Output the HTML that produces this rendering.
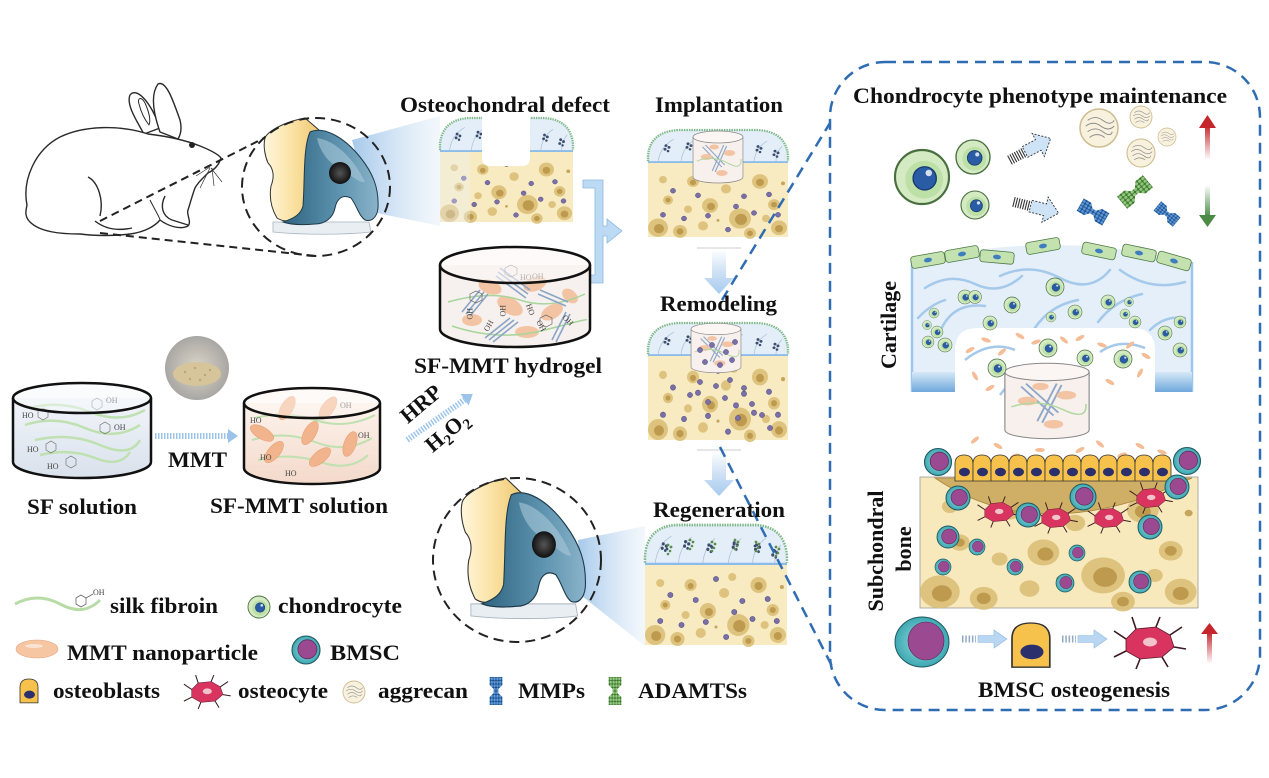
<!DOCTYPE html>
<html><head><meta charset="utf-8">
<style>
html,body{margin:0;padding:0;background:#fff;}
svg{display:block;}
.t{font-family:"Liberation Serif","DejaVu Serif",serif;font-weight:bold;fill:#111;}
.s{font-family:"Liberation Serif","DejaVu Serif",serif;font-size:8px;fill:#444;}
</style></head><body>
<svg width="1269" height="778" viewBox="0 0 1269 778" xmlns="http://www.w3.org/2000/svg">
<defs>
<linearGradient id="beam" x1="0" x2="1" y1="0" y2="0">
 <stop offset="0" stop-color="#8fbbe6" stop-opacity="0.8"/>
 <stop offset="1" stop-color="#dbe9f6" stop-opacity="0.35"/>
</linearGradient>
<linearGradient id="yel" x1="0" x2="1" y1="0" y2="0">
 <stop offset="0" stop-color="#fff6dc"/><stop offset="0.5" stop-color="#fbe3a6"/><stop offset="1" stop-color="#efc872"/>
</linearGradient>
<linearGradient id="blk" x1="0" x2="1" y1="0" y2="0">
 <stop offset="0" stop-color="#2f6480"/><stop offset="0.6" stop-color="#5f94b0"/><stop offset="1" stop-color="#8ab3c9"/>
</linearGradient>
<radialGradient id="hole"><stop offset="0" stop-color="#555"/><stop offset="1" stop-color="#111"/></radialGradient>
<linearGradient id="down" x1="0" y1="0" x2="0" y2="1">
 <stop offset="0" stop-color="#fff"/><stop offset="0.5" stop-color="#cfe2f5"/><stop offset="1" stop-color="#a6caee"/>
</linearGradient>
<linearGradient id="red" x1="0" y1="0" x2="0" y2="1">
 <stop offset="0" stop-color="#c4262c"/><stop offset="1" stop-color="#c4262c" stop-opacity="0"/>
</linearGradient>
<linearGradient id="grn" x1="0" y1="0" x2="0" y2="1">
 <stop offset="0" stop-color="#4b8b45" stop-opacity="0"/><stop offset="1" stop-color="#4b8b45"/>
</linearGradient>
<linearGradient id="bar" x1="0" y1="0" x2="0" y2="1">
 <stop offset="0" stop-color="#d6e8f8"/><stop offset="1" stop-color="#6fa8dc"/>
</linearGradient>
<linearGradient id="sfb" x1="0" y1="0" x2="0" y2="1">
 <stop offset="0" stop-color="#f2f5fa"/><stop offset="1" stop-color="#d9e1ec"/>
</linearGradient>
<linearGradient id="mmb" x1="0" y1="0" x2="0" y2="1">
 <stop offset="0" stop-color="#fdf3ec"/><stop offset="1" stop-color="#f3d9ca"/>
</linearGradient>
<radialGradient id="bm"><stop offset="0" stop-color="#9adfe0"/><stop offset="1" stop-color="#3ea8b2"/></radialGradient>
<radialGradient id="photo"><stop offset="0" stop-color="#dcd6c8"/><stop offset="1" stop-color="#a9a7a4"/></radialGradient>
<pattern id="bd" width="3.5" height="3.5" patternUnits="userSpaceOnUse"><rect width="3.5" height="3.5" fill="#1f4f8e"/><circle cx="1.75" cy="1.75" r="1.45" fill="#5b98d6"/></pattern>
<pattern id="gd" width="3.5" height="3.5" patternUnits="userSpaceOnUse"><rect width="3.5" height="3.5" fill="#3d7530"/><circle cx="1.75" cy="1.75" r="1.45" fill="#93c97f"/></pattern>

<g id="chondro">
 <circle r="10" fill="#d4eac3" stroke="#496f3e" stroke-width="0.8"/>
 <circle cx="0.8" cy="1" r="7" fill="#bde0a6"/>
 <circle cx="1" cy="0.5" r="4.3" fill="#2a5ca6" stroke="#173a70" stroke-width=".5"/>
 <circle cx="2.5" cy="-1.5" r="1.2" fill="#fff" opacity=".8"/>
</g>
<g id="bmsc">
 <circle r="10" fill="url(#bm)" stroke="#1f5962" stroke-width="0.8"/>
 <circle cx="1" cy="-0.5" r="6.8" fill="#9b4a92" stroke="#5a2456" stroke-width=".5"/>
</g>
<g id="oblast">
 <path d="M0,26 L0,9 Q0,0 9,0 Q18,0 18,9 L18,26 Z" fill="#f6c24c" stroke="#333" stroke-width=".8"/>
 <ellipse cx="9.5" cy="17" rx="5.5" ry="4.3" fill="#2b2f6c"/>
</g>
<g id="ocyte">
 <g stroke="#3a1a20" stroke-width="1.6" fill="none">
  <path d="M-22,-4 L-34,-12 M-12,-14 L-16,-26 M8,-16 L12,-26 M22,-8 L34,-16 M26,4 L38,6 M14,14 L20,24 M-8,16 L-12,26 M-22,8 L-34,14"/>
 </g>
 <path d="M-22,-4 L-12,-14 L8,-16 L22,-8 L26,4 L14,14 L-8,16 L-22,8 Z" fill="#d8345f" stroke="#5a1a2a" stroke-width="0.8"/>
 <ellipse cx="2" cy="-1" rx="7" ry="4.5" fill="#f3c3cc"/>
</g>
<g id="aggr">
 <circle r="10" fill="#f8f1de" stroke="#cdbd90" stroke-width=".8"/>
 <path d="M-6,-4 Q-2,-7 2,-4 T8,-4 M-7,-1 Q-3,-4 1,-1 T8,-1 M-6,2 Q-2,-1 2,2 T7,2 M-5,5 Q-1,2 3,5" stroke="#8a8a8a" stroke-width=".5" fill="none"/>
</g>
<path id="dumb" d="M-8,-14 L8,-14 L8,-6 L3,-2 L3,2 L8,6 L8,14 L-8,14 L-8,6 L-3,2 L-3,-2 L-8,-6 Z"/>
<g id="mmp"><use href="#dumb" fill="url(#bd)"/></g>
<g id="adam"><use href="#dumb" fill="url(#gd)"/></g>
<g id="cl"><circle r="1.5" fill="#3e4d6e"/><circle cx="3" cy="2" r="1.5" fill="#3e4d6e"/><circle cx="-1" cy="4" r="1.5" fill="#3e4d6e"/><circle cx="2" cy="6" r="1.3" fill="#3e4d6e"/></g>
<g id="clg"><circle r="1.4" fill="#5b8e4e"/><circle cx="3" cy="2" r="1.4" fill="#5b8e4e"/><circle cx="-1" cy="4" r="1.4" fill="#3e4d6e"/><circle cx="2" cy="6" r="1.3" fill="#5b8e4e"/><circle cx="0" cy="9" r="1.3" fill="#5b8e4e"/></g>

<g id="cartTop">
 <path d="M0,36 L0,28 Q2,2 30,0 L110,0 Q138,2 140,28 L140,36 Z" fill="#e3eef8"/>
 <path d="M0,34 L0,28 Q2,2 30,0 L110,0 Q138,2 140,28 L140,34" fill="none" stroke="#7fb98a" stroke-width="2.4" stroke-dasharray="1.5 1"/>
 <path d="M10,35 Q12,18 26,10 M33,35 Q34,20 46,11 M57,35 Q58,21 69,12 M82,35 Q84,20 95,12 M106,35 Q107,20 119,12 M128,35 Q128,24 134,18" stroke="#a9bfd4" stroke-width=".7" fill="none"/>
 <use href="#cl" x="18" y="17"/><use href="#cl" x="40" y="15"/><use href="#cl" x="63" y="18"/><use href="#cl" x="88" y="16"/><use href="#cl" x="110" y="18"/><use href="#cl" x="127" y="23"/>
 <rect x="0" y="34" width="140" height="3" fill="#8cbce8"/>
</g>

<g id="spots">
 <g fill="#dcbf78" opacity=".9">
  <circle cx="10" cy="70" r="10"/><circle cx="32" cy="74" r="7"/><circle cx="20" cy="40" r="5"/><circle cx="45" cy="20" r="6"/>
  <circle cx="62" cy="46" r="8"/><circle cx="78" cy="28" r="5"/><circle cx="92" cy="60" r="11"/><circle cx="112" cy="20" r="8"/>
  <circle cx="126" cy="45" r="6"/><circle cx="131" cy="70" r="8"/><circle cx="102" cy="76" r="6"/><circle cx="55" cy="68" r="5"/>
  <circle cx="40" cy="50" r="4"/><circle cx="86" cy="12" r="4"/><circle cx="118" cy="60" r="4"/><circle cx="15" cy="18" r="4"/>
 </g>
 <g fill="#b48d3e" opacity=".75">
  <circle cx="11" cy="71" r="5"/><circle cx="32" cy="74" r="3.5"/><circle cx="45" cy="21" r="3"/><circle cx="63" cy="47" r="4"/>
  <circle cx="93" cy="61" r="6"/><circle cx="112" cy="21" r="4"/><circle cx="126" cy="45" r="3"/><circle cx="131" cy="71" r="4"/>
  <circle cx="102" cy="76" r="3"/><circle cx="20" cy="40" r="2.5"/><circle cx="70" cy="62" r="1.5"/><circle cx="135" cy="22" r="2"/>
 </g>
</g>
<g id="purp" fill="#7b6fa8" stroke="#4d4a80" stroke-width=".5">
 <circle cx="25" cy="30" r="2.6"/><circle cx="50" cy="35" r="2.6"/><circle cx="70" cy="14" r="2.6"/><circle cx="96" cy="36" r="2.6"/>
 <circle cx="106" cy="54" r="2.6"/><circle cx="121" cy="34" r="2.6"/><circle cx="36" cy="60" r="2.6"/><circle cx="80" cy="72" r="2.6"/>
 <circle cx="60" cy="57" r="2.6"/><circle cx="130" cy="56" r="2.6"/><circle cx="15" cy="56" r="2.6"/><circle cx="88" cy="47" r="2.6"/>
</g>
<g id="boneTex">
 <rect width="140" height="80" fill="#f8ebc1"/>
 <use href="#spots"/><use href="#purp"/>
</g>

<g id="knee">
 <path d="M10,104 L106,104 L108,114 C80,117 40,117 10,114 Z" fill="#e9eef3" stroke="#aab4be" stroke-width=".8"/>
 <path d="M2,20 C4,14 20,4 42,0 L56,12 C48,40 44,70 40,100 C30,104 20,104 14,100 C8,90 6,80 8,68 C12,58 10,50 5,45 C2,38 0,28 2,20 Z" fill="url(#yel)" stroke="#333" stroke-width="1"/>
 <path d="M20,104 C32,100 38,96 40,88 C42,60 40,30 47,14 C60,8 80,18 97,39 C110,55 116,70 115,90 C114,100 108,104 102,102 C96,98 94,88 88,80 C80,76 74,80 72,90 C70,100 62,106 52,106 C40,107 28,107 20,104 Z" fill="url(#blk)" stroke="#1d3a4a" stroke-width="1"/>
 <path d="M54,20 C72,22 92,42 102,64 C96,66 82,52 70,46 C62,40 56,30 54,20 Z" fill="#a9c8d8" opacity=".6"/>
 <circle cx="77" cy="55" r="11" fill="url(#hole)"/>
</g>

<g id="hatch">
 <rect x="0" y="-5" width="15" height="10" fill="none"/>
 <path d="M0,-5 V5 M2.5,-5 V5 M5,-5 V5 M7.5,-5 V5 M10,-5 V5 M12.5,-5 V5 M15,-5 V5" stroke="#333" stroke-width="1.1"/>
 <path d="M17,-6 L32,-6 L32,-13 L46,0 L32,13 L32,6 L17,6 Z" fill="#cfe3f7" stroke="#333" stroke-width=".9" stroke-dasharray="2 1.5"/>
</g>
<g id="sarrow">
 <line x1="0" y1="0" x2="14" y2="0" stroke="#8fa9c4" stroke-width="7" stroke-dasharray="1.5 1.8"/>
 <path d="M16,-3.5 L32,-3.5 L32,-9 L45,0 L32,9 L32,3.5 L16,3.5 Z" fill="#b9d6f2" stroke="#8fb9e2" stroke-width=".6"/>
</g>
<g id="minicyl">
 <path d="M-26,0 L-26,40 A26,6 0 0 0 26,40 L26,0 Z" fill="#f8f0ec" stroke="#888" stroke-width=".7"/>
 <ellipse cx="0" cy="0" rx="26" ry="6" fill="#fbf6f3" stroke="#888" stroke-width=".7"/>
 <g stroke="#8fa8c8" stroke-width="1.2"><path d="M-16,10 L4,30 M-13,8 L7,28 M6,8 L-6,34 M9,9 L-3,35"/></g>
 <g fill="#f3c4a4"><ellipse cx="-12" cy="20" rx="6" ry="3"/><ellipse cx="12" cy="16" rx="6" ry="3"/><ellipse cx="4" cy="36" rx="6" ry="3"/><ellipse cx="-4" cy="10" rx="5" ry="2.5"/></g>
 <path d="M-22,24 Q-5,18 10,26 T24,22" stroke="#b0d8a0" stroke-width="1" fill="none"/>
</g>
</defs>

<rect width="1269" height="778" fill="#fff"/>

<!-- Rabbit -->
<g fill="#fff" stroke="#2a2a2a" stroke-width="1.4" stroke-linejoin="round">
 <path d="M144,134 C136,120 126,104 130,95 C136,87 150,100 160,128 Z"/>
 <path d="M160,132 C154,115 150,95 158,84 C166,80 173,100 180,120 C182,128 181,134 178,139 Z"/>
 <path d="M27,205 C22,180 35,150 60,137 C85,125 120,125 148,134 C165,136 185,140 200,146 C210,150 218,154 221,158 C219,165 214,170 208,173 C203,178 198,182 195,188 C192,196 190,204 188,210 C186,214 192,222 188,226 C180,230 168,226 160,220 C155,226 145,232 130,234 C115,236 95,236 80,234 C60,234 40,232 30,222 C24,216 26,210 27,205 Z"/>
 <path d="M139,104 C137,98 141,96 145,103 C149,112 151,120 149,125 C145,120 141,112 139,104 Z" fill="none" stroke-width="1"/>
 <path d="M88,177 C98,182 104,200 100,216" fill="none"/>
 <path d="M165,196 C160,206 162,216 172,220 L188,225" fill="none"/>
 <path d="M95,221 C105,229 118,231 132,228" fill="none"/>
 <path d="M150,200 C155,210 160,218 160,220" fill="none" stroke-width="1"/>
</g>
<circle cx="192" cy="145" r="3" fill="#222"/>
<g stroke="#333" stroke-width=".7" fill="none"><path d="M210,168 L200,188 M212,168 L214,186 M211,168 L222,182 M210,167 L196,176"/></g>

<!-- dashed black lines -->
<g stroke="#222" stroke-width="2" stroke-dasharray="8 5" fill="none">
 <path d="M100,221 L274,133"/>
 <path d="M100,233 L316,256"/>
</g>

<!-- beam 1 -->
<path d="M352,140 L440,116 L440,226 L372,212 Z" fill="url(#beam)"/>
<!-- knee 1 -->
<use href="#knee" transform="translate(263,118)"/>
<ellipse cx="316" cy="187" rx="74" ry="69" fill="none" stroke="#222" stroke-width="2" stroke-dasharray="10 6"/>

<!-- Defect block -->
<use href="#cartTop" transform="translate(440,118) scale(0.95 0.944)"/>
<g transform="translate(440,152) scale(0.95 0.875)"><use href="#boneTex"/></g>
<path d="M482,108 L482,158 Q482,166 490,166 L522,166 Q530,166 530,158 L530,108 Z" fill="#fff"/>
<path d="M440,152 L440,222 L470,222 L470,152 Z" fill="#eaf2fa" opacity=".35"/>

<!-- Bracket arrow -->
<path d="M583,180 L603,180 L603,226 L607,226 L607,219 L622,231 L607,243 L607,236 L603,236 L603,283 L583,283 L583,275 L595,275 L595,188 L583,188 Z" fill="#bcdaf4" stroke="#8db9e2" stroke-width=".8"/>

<!-- Hydrogel big cylinder -->
<g>
 <path d="M440,265 L440,329 A75,18 0 0 0 590,329 L590,265 Z" fill="#f6f0ee"/>
 <g fill="#f3c4a4">
  <ellipse cx="490" cy="287" rx="12" ry="7" transform="rotate(20 490 287)"/>
  <ellipse cx="535" cy="284" rx="12" ry="7" transform="rotate(-20 535 284)"/>
  <ellipse cx="510" cy="306" rx="14" ry="8" transform="rotate(30 510 306)"/>
  <ellipse cx="552" cy="312" rx="12" ry="7" transform="rotate(-30 552 312)"/>
  <ellipse cx="472" cy="320" rx="10" ry="6"/>
  <ellipse cx="527" cy="332" rx="12" ry="6"/>
  <ellipse cx="570" cy="296" rx="9" ry="6" transform="rotate(40 570 296)"/>
 </g>
 <path d="M448,302 Q490,290 520,300 T585,294 M452,326 Q500,342 545,330 T586,320" stroke="#a8d59a" stroke-width="1.5" fill="none"/>
 <g stroke="#8aa6c6" stroke-width="1.6">
  <path d="M500,268 L530,290 M498,272 L528,294 M496,276 L526,298"/>
  <path d="M462,312 L480,290 M466,314 L484,292 M470,316 L488,294"/>
  <path d="M540,290 L568,302 M538,294 L566,306"/>
  <path d="M485,338 L510,318 M489,340 L514,320 M493,342 L518,322"/>
  <path d="M552,340 L566,312 M556,342 L570,314"/>
 </g>
 <g stroke="#555" stroke-width=".6" fill="none"><path d="M505,268 l6,-3 6,3 0,6 -6,3 -6,-3z M470,294 l6,-3 6,3 0,6 -6,3 -6,-3z M540,318 l6,-3 6,3 0,6 -6,3 -6,-3z"/></g>
 <text class="s" x="532" y="279">OH</text>
 <text class="s" transform="rotate(90 467 308)" x="467" y="308">HO</text>
 <text class="s" transform="rotate(90 500 305)" x="500" y="305">HO</text>
 <text class="s" transform="rotate(70 526 305)" x="526" y="305">HO</text>
 <text class="s" transform="rotate(-60 488 332)" x="488" y="332">OH</text>
 <text class="s" transform="rotate(60 536 322)" x="536" y="322">OH</text>
 <text class="s" transform="rotate(45 562 318)" x="562" y="318">OH</text>
 <text class="s" x="520" y="280">HO</text>
 <path d="M440,265 L440,329 A75,18 0 0 0 590,329 L590,265" fill="none" stroke="#111" stroke-width="2.5"/>
 <ellipse cx="515" cy="265" rx="75" ry="18" fill="#fbf7f5" fill-opacity=".6" stroke="#111" stroke-width="2.5"/>
</g>

<!-- Implantation block -->
<use href="#cartTop" transform="translate(648,130) scale(1 0.917)"/>
<g transform="translate(648,163) scale(1 0.925)"><use href="#boneTex"/></g>
<use href="#minicyl" transform="translate(718,137) scale(0.96 1)"/>

<!-- Down arrows -->
<line x1="697" y1="248" x2="741" y2="248" stroke="#ccc" stroke-width="1"/>
<path d="M712,249 L726,249 L726,278 L734,278 L719,294 L704,278 L712,278 Z" fill="url(#down)"/>
<line x1="697" y1="450" x2="741" y2="450" stroke="#ccc" stroke-width="1"/>
<path d="M712,451 L726,451 L726,480 L734,480 L719,496 L704,480 L712,480 Z" fill="url(#down)"/>

<!-- Remodeling block -->
<use href="#cartTop" transform="translate(648,323) scale(1 0.917)"/>
<g transform="translate(648,356) scale(1 1.05)"><use href="#boneTex"/></g>
<use href="#minicyl" transform="translate(716,329) scale(0.96 0.95)"/>
<g fill="#7b6fa8" stroke="#4d4a80" stroke-width=".5">
 <circle cx="700" cy="350" r="2.6"/><circle cx="712" cy="345" r="2.6"/><circle cx="726" cy="352" r="2.6"/><circle cx="735" cy="342" r="2.6"/>
 <circle cx="705" cy="362" r="2.6"/><circle cx="720" cy="365" r="2.6"/><circle cx="732" cy="360" r="2.6"/>
 <circle cx="700" cy="382" r="2.6"/><circle cx="716" cy="386" r="2.6"/><circle cx="730" cy="380" r="2.6"/><circle cx="744" cy="388" r="2.6"/>
 <circle cx="690" cy="395" r="2.6"/><circle cx="708" cy="402" r="2.6"/><circle cx="725" cy="398" r="2.6"/><circle cx="752" cy="404" r="2.6"/>
 <circle cx="762" cy="415" r="2.6"/><circle cx="738" cy="418" r="2.6"/><circle cx="770" cy="428" r="2.6"/>
</g>

<!-- beam 2 + knee 2 -->
<path d="M578,540 L645,526 L645,646 L582,596 Z" fill="url(#beam)"/>
<use href="#knee" transform="translate(460,478) scale(1.09 1.21)"/>
<ellipse cx="517" cy="560" rx="84" ry="82" fill="none" stroke="#222" stroke-width="2" stroke-dasharray="10 6"/>

<!-- Regeneration block -->
<use href="#cartTop" transform="translate(645,525) scale(1.014 1.11)"/>
<g transform="translate(645,565) scale(1.014 1)"><use href="#boneTex"/></g>
<use href="#clg" x="668" y="545"/><use href="#clg" x="690" y="540"/><use href="#clg" x="712" y="542"/><use href="#clg" x="735" y="540"/><use href="#clg" x="756" y="542"/><use href="#clg" x="776" y="547"/>

<!-- SF solution beaker -->
<path d="M13,398 L13,462 A69,16 0 0 0 151,462 L151,398 Z" fill="url(#sfb)"/>
<g stroke="#bfe0b0" stroke-width="2.5" fill="none">
 <path d="M30,408 Q60,400 90,412 T145,410"/>
 <path d="M25,425 Q55,415 85,428 T140,425"/>
 <path d="M35,440 Q70,432 100,445 T140,440"/>
 <path d="M40,455 Q70,448 95,458 T130,452"/>
</g>
<g stroke="#666" stroke-width=".6" fill="none">
 <path d="M92,401 l5,-3 5,3 0,6 -5,3 -5,-3z M38,411 l5,-3 5,3 0,6 -5,3 -5,-3z M100,425 l5,-3 5,3 0,6 -5,3 -5,-3z M46,444 l5,-3 5,3 0,6 -5,3 -5,-3z M66,459 l5,-3 5,3 0,6 -5,3 -5,-3z"/>
</g>
<text class="s" x="106" y="403">OH</text><text class="s" x="22" y="418">HO</text><text class="s" x="114" y="430">OH</text>
<text class="s" x="27" y="452">HO</text><text class="s" x="47" y="469">HO</text>
<path d="M13,398 L13,462 A69,16 0 0 0 151,462 L151,398" fill="none" stroke="#111" stroke-width="2.5"/>
<ellipse cx="82" cy="398" rx="69" ry="15" fill="#f6f8fc" fill-opacity=".5" stroke="#111" stroke-width="2.5"/>

<!-- MMT photo + arrow -->
<circle cx="197" cy="368" r="32" fill="url(#photo)"/>
<ellipse cx="197" cy="374" rx="24" ry="12" fill="#d6c49a"/>
<g fill="#b8a57a"><circle cx="185" cy="372" r="1.2"/><circle cx="195" cy="368" r="1.2"/><circle cx="205" cy="375" r="1.2"/><circle cx="210" cy="370" r="1.2"/><circle cx="190" cy="379" r="1.2"/><circle cx="200" cy="380" r="1.2"/></g>
<line x1="155" y1="436" x2="228" y2="436" stroke="#9cc4ea" stroke-width="6" stroke-dasharray="1.5 1.5"/>
<path d="M228,429 L238,436 L228,443 Z" fill="#9cc4ea"/>

<!-- SF-MMT solution beaker -->
<path d="M244,403 L244,468 A68,16 0 0 0 380,468 L380,403 Z" fill="url(#mmb)"/>
<g stroke="#bfe0b0" stroke-width="2" fill="none">
 <path d="M255,418 Q285,410 315,420 T375,415"/><path d="M252,440 Q285,430 315,442 T372,438"/><path d="M258,460 Q290,452 320,462 T368,455"/>
</g>
<g fill="#f2b48c" stroke="#e39a70" stroke-width=".5">
 <ellipse cx="287" cy="408" rx="13" ry="6" transform="rotate(-60 287 408)"/>
 <ellipse cx="328" cy="408" rx="13" ry="6" transform="rotate(-55 328 408)"/>
 <ellipse cx="262" cy="433" rx="13" ry="6" transform="rotate(30 262 433)"/>
 <ellipse cx="310" cy="433" rx="13" ry="6" transform="rotate(-60 310 433)"/>
 <ellipse cx="350" cy="444" rx="13" ry="6" transform="rotate(-70 350 444)"/>
 <ellipse cx="274" cy="452" rx="13" ry="6" transform="rotate(-50 274 452)"/>
 <ellipse cx="320" cy="457" rx="13" ry="6" transform="rotate(-40 320 457)"/>
</g>
<text class="s" x="250" y="423">HO</text><text class="s" x="340" y="408">OH</text><text class="s" x="358" y="438">OH</text>
<text class="s" x="260" y="460">HO</text><text class="s" x="285" y="476">HO</text>
<path d="M244,403 L244,468 A68,16 0 0 0 380,468 L380,403" fill="none" stroke="#111" stroke-width="2.5"/>
<ellipse cx="312" cy="403" rx="68" ry="15" fill="#fdf6f1" fill-opacity=".5" stroke="#111" stroke-width="2.5"/>

<!-- HRP arrow -->
<g transform="rotate(-35 440 417)">
 <line x1="400" y1="417" x2="470" y2="417" stroke="#9cc4ea" stroke-width="6" stroke-dasharray="1.5 1.5"/>
 <path d="M470,410 L480,417 L470,424 Z" fill="#9cc4ea"/>
</g>
<text class="t" font-size="22" text-anchor="middle" transform="rotate(-40 421 404)" x="421" y="411">HRP</text>
<text class="t" font-size="22" text-anchor="middle" transform="rotate(-40 447 432)" x="447" y="439">H<tspan font-size="15" dy="5">2</tspan><tspan dy="-5">O</tspan><tspan font-size="15" dy="5">2</tspan></text>

<!-- blue dashed connectors -->
<g stroke="#2f6db3" stroke-width="2.5" stroke-dasharray="11 7" fill="none">
 <path d="M722,300 L830,123"/>
 <path d="M720,447 L834,670"/>
 <rect x="830" y="62" width="430" height="648" rx="55"/>
</g>

<!-- Panel: top cells -->
<use href="#chondro" transform="translate(922,177) scale(2.7)"/>
<use href="#chondro" transform="translate(973,157) scale(1.7)"/>
<use href="#chondro" transform="translate(975,205) scale(1.4)"/>
<use href="#hatch" transform="translate(1010,160) rotate(-28)"/>
<use href="#hatch" transform="translate(1014,202) rotate(14)"/>
<use href="#aggr" transform="translate(1099,128) scale(1.9)"/>
<use href="#aggr" transform="translate(1141,117) scale(1.1)"/>
<use href="#aggr" transform="translate(1167,137) scale(0.9)"/>
<use href="#aggr" transform="translate(1141,153) scale(1.4)"/>
<use href="#mmp" transform="translate(1093,212) rotate(-60) scale(0.9 1.05)"/>
<use href="#adam" transform="translate(1135,192) rotate(50) scale(1 1.2)"/>
<use href="#mmp" transform="translate(1167,214) rotate(-50) scale(0.75 0.9)"/>
<rect x="1205" y="125" width="5" height="35" fill="url(#red)"/>
<path d="M1199,128 L1207.5,115 L1216,128 Z" fill="#c4262c"/>
<rect x="1205" y="185" width="5" height="32" fill="url(#grn)"/>
<path d="M1199,215 L1207.5,227 L1216,215 Z" fill="#4b8b45"/>

<!-- Cartilage -->
<path d="M912,262 Q1052,228 1192,262 L1192,392 L912,392 Z" fill="#e4eff9"/>
<path d="M912,262 L912,392 M1192,262 L1192,392" stroke="#9cc6ec" stroke-width="2.5"/>
<g stroke="#a5c9ea" stroke-width="2.5" fill="none" stroke-linecap="round">
 <path d="M925,288 Q950,272 975,284 T1022,276"/>
 <path d="M1000,276 Q1030,262 1060,278 T1110,270"/>
 <path d="M1120,270 Q1150,292 1185,282"/>
 <path d="M940,332 Q952,302 985,306"/>
 <path d="M1030,336 Q1046,306 1078,300"/>
 <path d="M1098,322 Q1115,300 1142,294"/>
 <path d="M1150,330 Q1165,315 1185,318"/>
 <path d="M918,318 Q930,305 945,300"/>
</g>
<path d="M955,392 L955,350 Q955,328 978,328 L1132,328 Q1155,328 1155,350 L1155,392 Z" fill="#fff"/>
<rect x="912" y="372" width="43" height="20" fill="url(#bar)"/>
<rect x="1155" y="372" width="37" height="20" fill="url(#bar)"/>
<g stroke="#a5c9ea" stroke-width="2.5" fill="none"><path d="M965,360 Q990,340 1015,350 M1100,352 Q1120,338 1145,348 M1000,395 Q1010,380 1030,378"/></g>
<g>
 <g transform="translate(928,260) rotate(-10)"><rect x="-17" y="-6" width="34" height="12" rx="3" fill="#c4e2b0" stroke="#4c7a44" stroke-width=".8"/><ellipse rx="4" ry="2.3" fill="#3f7cc0"/></g>
 <g transform="translate(962,254) rotate(-10)"><rect x="-17" y="-6" width="34" height="12" rx="3" fill="#c4e2b0" stroke="#4c7a44" stroke-width=".8"/><ellipse rx="4" ry="2.3" fill="#3f7cc0"/></g>
 <g transform="translate(997,257) rotate(5)"><rect x="-17" y="-6" width="34" height="12" rx="3" fill="#c4e2b0" stroke="#4c7a44" stroke-width=".8"/><ellipse rx="4" ry="2.3" fill="#3f7cc0"/></g>
 <g transform="translate(1043,246) rotate(-10)"><rect x="-17" y="-6" width="34" height="12" rx="3" fill="#c4e2b0" stroke="#4c7a44" stroke-width=".8"/><ellipse rx="4" ry="2.3" fill="#3f7cc0"/></g>
 <g transform="translate(1099,251) rotate(12)"><rect x="-17" y="-6" width="34" height="12" rx="3" fill="#c4e2b0" stroke="#4c7a44" stroke-width=".8"/><ellipse rx="4" ry="2.3" fill="#3f7cc0"/></g>
 <g transform="translate(1139,253) rotate(12)"><rect x="-17" y="-6" width="34" height="12" rx="3" fill="#c4e2b0" stroke="#4c7a44" stroke-width=".8"/><ellipse rx="4" ry="2.3" fill="#3f7cc0"/></g>
 <g transform="translate(1174,261) rotate(16)"><rect x="-17" y="-6" width="34" height="12" rx="3" fill="#c4e2b0" stroke="#4c7a44" stroke-width=".8"/><ellipse rx="4" ry="2.3" fill="#3f7cc0"/></g>
</g>
<g>
 <use href="#chondro" transform="translate(965,297) scale(.7)"/><use href="#chondro" transform="translate(975,297) scale(.65)"/>
 <use href="#chondro" transform="translate(1012,305) scale(.8)"/><use href="#chondro" transform="translate(1055,287) scale(.9)"/>
 <use href="#chondro" transform="translate(1075,312) scale(.7)"/><use href="#chondro" transform="translate(1051,317) scale(.5)"/>
 <use href="#chondro" transform="translate(1108,302) scale(.7)"/><use href="#chondro" transform="translate(1129,302) scale(.45)"/>
 <use href="#chondro" transform="translate(1125,314) scale(.5)"/><use href="#chondro" transform="translate(1135,322) scale(.6)"/>
 <use href="#chondro" transform="translate(990,323) scale(.7)"/><use href="#chondro" transform="translate(934,313) scale(.5)"/>
 <use href="#chondro" transform="translate(927,325) scale(.45)"/><use href="#chondro" transform="translate(937,332) scale(.6)"/>
 <use href="#chondro" transform="translate(928,342) scale(.6)"/><use href="#chondro" transform="translate(945,345) scale(.7)"/>
 <use href="#chondro" transform="translate(1165,333) scale(.7)"/><use href="#chondro" transform="translate(1180,322) scale(.6)"/>
 <use href="#chondro" transform="translate(1180,350) scale(.7)"/>
</g>
<g fill="#f4bd97">
 <ellipse cx="970" cy="350" rx="5" ry="2" transform="rotate(-30 970 350)"/><ellipse cx="986" cy="340" rx="5" ry="2" transform="rotate(20 986 340)"/>
 <ellipse cx="1002" cy="352" rx="5" ry="2" transform="rotate(-40 1002 352)"/><ellipse cx="1020" cy="336" rx="5" ry="2" transform="rotate(30 1020 336)"/>
 <ellipse cx="1036" cy="342" rx="5" ry="2" transform="rotate(-20 1036 342)"/><ellipse cx="1064" cy="340" rx="5" ry="2" transform="rotate(40 1064 340)"/>
 <ellipse cx="1080" cy="338" rx="5" ry="2" transform="rotate(-30 1080 338)"/><ellipse cx="1102" cy="345" rx="5" ry="2" transform="rotate(20 1102 345)"/>
 <ellipse cx="1130" cy="345" rx="5" ry="2" transform="rotate(-40 1130 345)"/><ellipse cx="1146" cy="356" rx="5" ry="2" transform="rotate(30 1146 356)"/>
 <ellipse cx="975" cy="376" rx="5" ry="2" transform="rotate(60 975 376)"/><ellipse cx="990" cy="388" rx="5" ry="2" transform="rotate(-30 990 388)"/>
 <ellipse cx="1110" cy="382" rx="5" ry="2" transform="rotate(30 1110 382)"/><ellipse cx="1140" cy="373" rx="5" ry="2" transform="rotate(-60 1140 373)"/>
 <ellipse cx="975" cy="440" rx="5" ry="2" transform="rotate(-40 975 440)"/><ellipse cx="998" cy="446" rx="5" ry="2" transform="rotate(30 998 446)"/>
 <ellipse cx="1015" cy="456" rx="5" ry="2" transform="rotate(-20 1015 456)"/><ellipse cx="1040" cy="450" rx="5" ry="2"/>
 <ellipse cx="1058" cy="460" rx="5" ry="2" transform="rotate(20 1058 460)"/><ellipse cx="1080" cy="450" rx="5" ry="2" transform="rotate(-30 1080 450)"/>
 <ellipse cx="1100" cy="444" rx="5" ry="2" transform="rotate(40 1100 444)"/><ellipse cx="1122" cy="455" rx="5" ry="2" transform="rotate(-20 1122 455)"/>
 <ellipse cx="1140" cy="446" rx="5" ry="2" transform="rotate(30 1140 446)"/><ellipse cx="1162" cy="452" rx="5" ry="2" transform="rotate(20 1162 452)"/>
</g>
<use href="#minicyl" transform="translate(1047,372) scale(1.62 1.45)"/>
<use href="#chondro" transform="translate(1048,348) scale(.9)"/>
<use href="#chondro" transform="translate(1085,358) scale(.8)"/>
<use href="#chondro" transform="translate(1123,359) scale(.9)"/>
<use href="#chondro" transform="translate(997,368) scale(.9)"/>

<!-- Subchondral bone -->
<rect x="920" y="477" width="278" height="131" fill="#f8e9bd" stroke="#999" stroke-width=".8"/>
<g transform="translate(920,477) scale(1.99 1.64)"><use href="#spots"/></g>
<path d="M935,478 Q1040,550 1192,478 Z" fill="#cfae66" stroke="#a8873f" stroke-width=".8"/>
<g>
 <use href="#oblast" x="955" y="455"/><use href="#oblast" x="973" y="455"/><use href="#oblast" x="991" y="455"/><use href="#oblast" x="1009" y="455"/>
 <use href="#oblast" x="1027" y="455"/><use href="#oblast" x="1045" y="455"/><use href="#oblast" x="1063" y="455"/><use href="#oblast" x="1081" y="455"/>
 <use href="#oblast" x="1099" y="455"/><use href="#oblast" x="1117" y="455"/><use href="#oblast" x="1135" y="455"/><use href="#oblast" x="1153" y="455"/>
</g>
<use href="#bmsc" transform="translate(938,462) scale(1.35)"/>
<use href="#bmsc" transform="translate(1187,461) scale(1.35)"/>
<use href="#ocyte" transform="translate(998,512) scale(.6)"/>
<use href="#ocyte" transform="translate(1055,518) scale(.6)"/>
<use href="#ocyte" transform="translate(1108,518) scale(.6)"/>
<use href="#ocyte" transform="translate(1150,498) scale(.6)"/>
<g>
 <use href="#bmsc" transform="translate(958,498) scale(1.2)"/><use href="#bmsc" transform="translate(1083,497) scale(1.3)"/>
 <use href="#bmsc" transform="translate(1177,487) scale(1.2)"/><use href="#bmsc" transform="translate(1028,515) scale(1.2)"/>
 <use href="#bmsc" transform="translate(1150,527) scale(1.2)"/><use href="#bmsc" transform="translate(948,537) scale(1.1)"/>
 <use href="#bmsc" transform="translate(977,547) scale(.8)"/><use href="#bmsc" transform="translate(943,567) scale(.8)"/>
 <use href="#bmsc" transform="translate(1015,567) scale(.8)"/><use href="#bmsc" transform="translate(1077,553) scale(.8)"/>
 <use href="#bmsc" transform="translate(1065,583) scale(.9)"/><use href="#bmsc" transform="translate(1140,582) scale(1.1)"/>
</g>

<!-- bottom row -->
<g transform="translate(922,642)">
 <ellipse rx="27" ry="25" fill="url(#bm)" stroke="#1f5962" stroke-width="1"/>
 <ellipse cx="4" cy="-1" rx="18" ry="19" fill="#9b4a92" stroke="#5a2456" stroke-width=".6"/>
</g>
<use href="#sarrow" transform="translate(962,639)"/>
<g transform="translate(1012,623) scale(2.1 1.7)"><use href="#oblast"/></g>
<use href="#sarrow" transform="translate(1062,639)"/>
<use href="#ocyte" transform="translate(1148,643) scale(1.0 1.0)"/>
<rect x="1207" y="632" width="5" height="32" fill="url(#red)"/>
<path d="M1201,634 L1209.5,623 L1218,634 Z" fill="#c4262c"/>

<!-- Labels -->
<text class="t" font-size="22" x="400" y="112" textLength="210" lengthAdjust="spacingAndGlyphs">Osteochondral defect</text>
<text class="t" font-size="22" x="655" y="112" textLength="128" lengthAdjust="spacingAndGlyphs">Implantation</text>
<text class="t" font-size="22" x="660" y="311" textLength="117" lengthAdjust="spacingAndGlyphs">Remodeling</text>
<text class="t" font-size="22" x="653" y="517" textLength="132" lengthAdjust="spacingAndGlyphs">Regeneration</text>
<text class="t" font-size="22" x="414" y="373" textLength="188" lengthAdjust="spacingAndGlyphs">SF-MMT hydrogel</text>
<text class="t" font-size="22" x="27" y="514" textLength="110" lengthAdjust="spacingAndGlyphs">SF solution</text>
<text class="t" font-size="22" x="210" y="513" textLength="178" lengthAdjust="spacingAndGlyphs">SF-MMT solution</text>
<text class="t" font-size="22" x="168" y="467" textLength="59" lengthAdjust="spacingAndGlyphs">MMT</text>
<text class="t" font-size="22" x="853" y="103" textLength="374" lengthAdjust="spacingAndGlyphs">Chondrocyte phenotype maintenance</text>
<text class="t" font-size="22" x="978" y="697" textLength="192" lengthAdjust="spacingAndGlyphs">BMSC osteogenesis</text>
<text class="t" font-size="22" text-anchor="middle" transform="rotate(-90 896 325)" x="896" y="325">Cartilage</text>
<text class="t" font-size="22" text-anchor="middle" transform="rotate(-90 883 551)" x="883" y="551">Subchondral</text>
<text class="t" font-size="22" text-anchor="middle" transform="rotate(-90 911 549)" x="911" y="549">bone</text>

<!-- Legend -->
<path d="M15,604 C30,596 45,596 60,604 S88,612 100,600" stroke="#b8dca6" stroke-width="3" fill="none"/>
<path d="M76,598 l5,-3 5,3 0,6 -5,3 -5,-3z M86,598 L93,594" stroke="#666" stroke-width=".8" fill="none"/>
<text class="s" x="93" y="595" font-size="9">OH</text>
<text class="t" font-size="22" x="110" y="613" textLength="108" lengthAdjust="spacingAndGlyphs">silk fibroin</text>
<use href="#chondro" transform="translate(259,607) scale(1.1)"/>
<text class="t" font-size="22" x="278" y="613" textLength="124" lengthAdjust="spacingAndGlyphs">chondrocyte</text>
<ellipse cx="37" cy="649" rx="21" ry="9" fill="#f6c5a1" stroke="#e6a47e" stroke-width=".6"/>
<ellipse cx="34" cy="646" rx="9" ry="2" fill="#fbe3d2"/>
<text class="t" font-size="22" x="67" y="660" textLength="191" lengthAdjust="spacingAndGlyphs">MMT nanoparticle</text>
<use href="#bmsc" transform="translate(306,650) scale(1.4)"/>
<text class="t" font-size="22" x="330" y="660" textLength="70" lengthAdjust="spacingAndGlyphs">BMSC</text>
<use href="#oblast" transform="translate(20,679) scale(1 0.92)"/>
<text class="t" font-size="22" x="53" y="698" textLength="107" lengthAdjust="spacingAndGlyphs">osteoblasts</text>
<use href="#ocyte" transform="translate(206,692) scale(.65)"/>
<text class="t" font-size="22" x="238" y="698" textLength="90" lengthAdjust="spacingAndGlyphs">osteocyte</text>
<use href="#aggr" transform="translate(354,692) scale(1.1)"/>
<text class="t" font-size="22" x="378" y="698" textLength="90" lengthAdjust="spacingAndGlyphs">aggrecan</text>
<use href="#mmp" transform="translate(496,691) scale(0.8 1)"/>
<text class="t" font-size="22" x="518" y="698" textLength="67" lengthAdjust="spacingAndGlyphs">MMPs</text>
<use href="#adam" transform="translate(615,691) scale(0.8 1)"/>
<text class="t" font-size="22" x="638" y="698" textLength="109" lengthAdjust="spacingAndGlyphs">ADAMTSs</text>
</svg>
</body></html>
